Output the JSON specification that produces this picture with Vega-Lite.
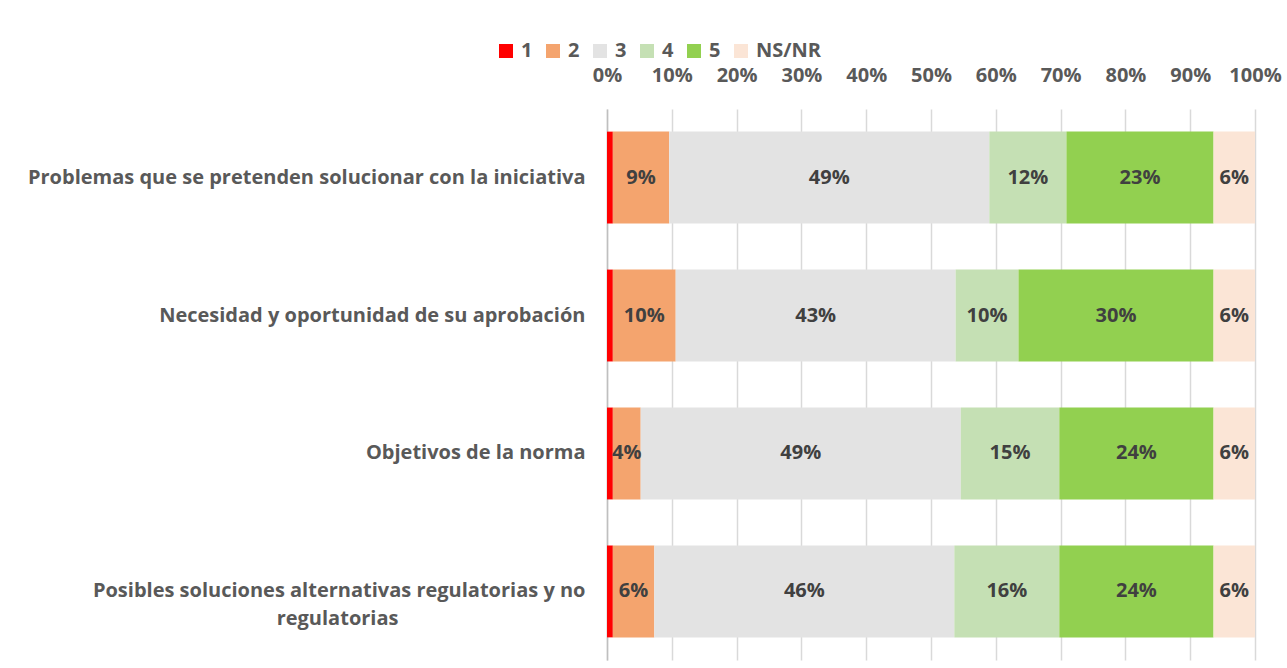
{
  "$schema": "https://vega.github.io/schema/vega-lite/v6.json",
  "width": 648,
  "height": 551,
  "autosize": {"type": "none"},
  "padding": {"left": 607, "top": 109, "right": 32, "bottom": 8},
  "background": "white",
  "config": {
    "view": {"stroke": null},
    "font": "Open Sans"
  },
  "data": {
    "values": [
      {"q": "Problemas que se pretenden solucionar con la iniciativa", "cat": "1", "ord": 1, "v": 0.009},
      {"q": "Problemas que se pretenden solucionar con la iniciativa", "cat": "2", "ord": 2, "v": 0.087},
      {"q": "Problemas que se pretenden solucionar con la iniciativa", "cat": "3", "ord": 3, "v": 0.494},
      {"q": "Problemas que se pretenden solucionar con la iniciativa", "cat": "4", "ord": 4, "v": 0.119},
      {"q": "Problemas que se pretenden solucionar con la iniciativa", "cat": "5", "ord": 5, "v": 0.227},
      {"q": "Problemas que se pretenden solucionar con la iniciativa", "cat": "NS/NR", "ord": 6, "v": 0.064},
      {"q": "Necesidad y oportunidad de su aprobación", "cat": "1", "ord": 1, "v": 0.009},
      {"q": "Necesidad y oportunidad de su aprobación", "cat": "2", "ord": 2, "v": 0.097},
      {"q": "Necesidad y oportunidad de su aprobación", "cat": "3", "ord": 3, "v": 0.432},
      {"q": "Necesidad y oportunidad de su aprobación", "cat": "4", "ord": 4, "v": 0.097},
      {"q": "Necesidad y oportunidad de su aprobación", "cat": "5", "ord": 5, "v": 0.301},
      {"q": "Necesidad y oportunidad de su aprobación", "cat": "NS/NR", "ord": 6, "v": 0.064},
      {"q": "Objetivos de la norma", "cat": "1", "ord": 1, "v": 0.009},
      {"q": "Objetivos de la norma", "cat": "2", "ord": 2, "v": 0.043},
      {"q": "Objetivos de la norma", "cat": "3", "ord": 3, "v": 0.494},
      {"q": "Objetivos de la norma", "cat": "4", "ord": 4, "v": 0.152},
      {"q": "Objetivos de la norma", "cat": "5", "ord": 5, "v": 0.238},
      {"q": "Objetivos de la norma", "cat": "NS/NR", "ord": 6, "v": 0.064},
      {"q": "Posibles soluciones alternativas regulatorias y no regulatorias", "cat": "1", "ord": 1, "v": 0.009},
      {"q": "Posibles soluciones alternativas regulatorias y no regulatorias", "cat": "2", "ord": 2, "v": 0.064},
      {"q": "Posibles soluciones alternativas regulatorias y no regulatorias", "cat": "3", "ord": 3, "v": 0.463},
      {"q": "Posibles soluciones alternativas regulatorias y no regulatorias", "cat": "4", "ord": 4, "v": 0.162},
      {"q": "Posibles soluciones alternativas regulatorias y no regulatorias", "cat": "5", "ord": 5, "v": 0.238},
      {"q": "Posibles soluciones alternativas regulatorias y no regulatorias", "cat": "NS/NR", "ord": 6, "v": 0.064}
    ]
  },
  "transform": [
    {"stack": "v", "groupby": ["q"], "sort": [{"field": "ord", "order": "ascending"}], "as": ["x0", "x1"]},
    {"calculate": "(datum.x0 + datum.x1) / 2", "as": "xm"}
  ],
  "encoding": {
    "y": {
      "field": "q",
      "type": "nominal",
      "sort": null,
      "title": null,
      "scale": {"paddingInner": 0.334, "paddingOuter": 0.164},
      "axis": {
        "domain": true,
        "domainColor": "#bfbfbf",
        "domainWidth": 1.5,
        "ticks": false,
        "grid": false,
        "labelFont": "Open Sans",
        "labelFontSize": 20,
        "labelFontWeight": "bold",
        "labelColor": "#595959",
        "labelPadding": 22,
        "labelLimit": 700,
        "labelLineHeight": 28,
        "labelExpr": "datum.label == 'Posibles soluciones alternativas regulatorias y no regulatorias' ? ['Posibles soluciones alternativas regulatorias y no', 'regulatorias\u00a0\u00a0\u00a0\u00a0\u00a0\u00a0\u00a0\u00a0\u00a0\u00a0\u00a0\u00a0\u00a0\u00a0\u00a0\u00a0\u00a0\u00a0\u00a0\u00a0\u00a0\u00a0\u00a0\u00a0\u00a0\u00a0\u00a0\u00a0\u00a0\u00a0\u00a0\u00a0\u00a0\u00a0\u00a0\u00a0\u200c'] : datum.label"
      }
    }
  },
  "layer": [
    {
      "mark": {"type": "bar"},
      "encoding": {
        "x": {
          "field": "x0",
          "type": "quantitative",
          "scale": {"domain": [0, 1], "nice": false},
          "title": null,
          "axis": {
            "orient": "top",
            "format": ".0%",
            "values": [0, 0.1, 0.2, 0.3, 0.4, 0.5, 0.6, 0.7, 0.8, 0.9, 1],
            "domain": false,
            "ticks": false,
            "grid": true,
            "gridColor": "#d9d9d9",
            "gridWidth": 1.5,
            "labelFont": "Open Sans",
            "labelFontSize": 20,
            "labelFontWeight": "bold",
            "labelColor": "#595959",
            "labelPadding": 24,
            "labelFlush": false
          }
        },
        "x2": {"field": "x1"},
        "color": {
          "field": "cat",
          "type": "nominal",
          "scale": {
            "domain": ["1", "2", "3", "4", "5", "NS/NR"],
            "range": ["#ff0000", "#f4a46e", "#e3e3e3", "#c5e0b4", "#92d050", "#fbe5d6"]
          },
          "legend": {
            "title": null,
            "orient": "none",
            "direction": "horizontal",
            "legendX": -111,
            "legendY": -68,
            "symbolType": "square",
            "symbolSize": 196,
            "symbolStrokeWidth": 0,
            "labelFont": "Open Sans",
            "labelFontSize": 20,
            "labelFontWeight": "bold",
            "labelColor": "#595959",
            "labelOffset": 5,
            "columnPadding": 10
          }
        }
      }
    },
    {
      "transform": [{"filter": "datum.cat != '1'"}],
      "mark": {"type": "text", "font": "Open Sans", "fontSize": 20, "fontWeight": "bold", "color": "#404040"},
      "encoding": {
        "x": {"field": "xm", "type": "quantitative"},
        "text": {"field": "v", "type": "quantitative", "format": ".0%"}
      }
    }
  ]
}
